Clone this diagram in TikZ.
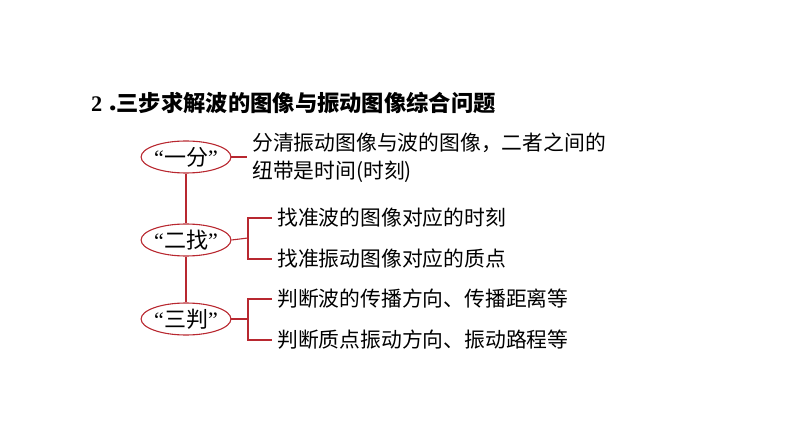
\documentclass[tikz,border=0pt]{standalone}
\usepackage{fontspec}
\setmainfont{Liberation Serif}
\newfontfamily\cjk{Noto Sans CJK SC}
\usetikzlibrary{shapes.geometric}
\definecolor{linered}{RGB}{184,40,48}
\tikzset{
  oval/.style={ellipse,draw=linered,line width=1.1pt,minimum width=70pt,minimum height=32pt,inner sep=0pt,font=\fontsize{22}{22}\selectfont},
  conn/.style={draw=linered,line width=1.1pt},
  txt/.style={anchor=west,inner ysep=0pt,inner xsep=5pt,font=\cjk\fontsize{20.8}{28}\selectfont,align=left},
}
\begin{document}
\begin{tikzpicture}[x=1pt,y=-1pt]
\useasboundingbox (0,0) rectangle (794,446);
\node[anchor=west,inner sep=0pt,font=\fontsize{22.3}{22.3}\selectfont] (title) at (91,103)
  {\textbf{2}\kern4pt{\cjk\bfseries ．}\kern-12pt{\cjk\bfseries 三步求解波的图像与振动图像综合问题}};
\node[oval] (e1) at (186,157) {“{\cjk 一分}”};
\node[oval] (e2) at (186,240) {“{\cjk 二找}”};
\node[oval] (e3) at (186,319) {“{\cjk 三判}”};
\draw[conn] (e1.south) -- (e2.north);
\draw[conn] (e2.south) -- (e3.north);
\node[txt] (t1) at (247,158) {分清振动图像与波的图像，二者之间的\\纽带是时间(时刻)};
\draw[conn] (e1.east) -- (e1.east -| t1.west);
\coordinate (b2) at (248,238);
\coordinate (b3) at (248,319);
\node[txt] (t2a) at (272,218) {找准波的图像对应的时刻};
\node[txt] (t2b) at (272,259) {找准振动图像对应的质点};
\node[txt] (t3a) at (272,299) {判断波的传播方向、传播距离等};
\node[txt] (t3b) at (272,340) {判断质点振动方向、振动路程等};
\draw[conn] (e2.east) -- (b2);
\draw[conn] (t2a.west) -| (b2) |- (t2b.west);
\draw[conn] (e3.east) -- (b3);
\draw[conn] (t3a.west) -| (b3) |- (t3b.west);
\end{tikzpicture}
\end{document}
